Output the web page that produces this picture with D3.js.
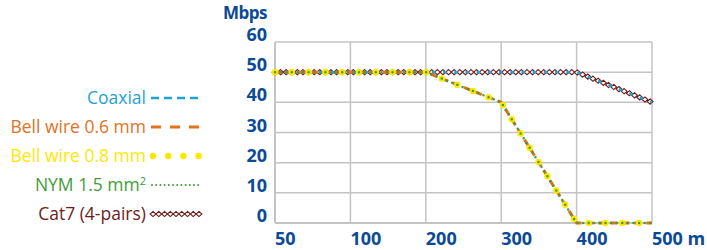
<!DOCTYPE html>
<html>
<head>
<meta charset="utf-8">
<script src="https://cdn.jsdelivr.net/npm/d3@7"></script>
<style>
  body { margin: 0; background: #fff; }
  svg { display: block; }
</style>
</head>
<body>
<svg id="chart" width="707" height="250"></svg>
<script>
// Débit selon la distance, par type de câble

var distances = ["50", "100", "200", "300", "400", "500"];
var distance_labels = ["50", "100", "200", "300", "400", "500 m"];
var mbps_ticks = [0, 10, 20, 30, 40, 50, 60];

var coaxial = [50, 50, 50, 50, 50, 40];
var bell_06 = [50, 50, 50, 40, 0, 0];
var bell_08 = [50, 50, 50, 40, 0, 0];
var nym_15 = [50, 50, 50, 40, 0, 0];
var cat7 = [50, 50, 50, 50, 50, 40];

var series_names = ["Coaxial", "Bell wire 0.6 mm", "Bell wire 0.8 mm", "NYM 1.5 mm²", "Cat7 (4-pairs)"];

var svg = d3.select("#chart");
var blue = "#0b4a96";

var x = d3.scalePoint().domain(distances).range([275, 652]);
var y = d3.scaleLinear().domain([0, 60]).range([223, 42]);

// Grille
var grid = svg.append("g");
grid.selectAll(".hgrid")
    .data(mbps_ticks)
    .enter()
    .append("line")
    .attr("x1", x.range()[0])
    .attr("x2", x.range()[1])
    .attr("y1", d => y(d))
    .attr("y2", d => y(d))
    .attr("stroke", "#c4c4c4")
    .attr("stroke-width", d => d === 0 ? 2 : 1.5);
grid.selectAll(".vgrid")
    .data(distances)
    .enter()
    .append("line")
    .attr("x1", d => x(d))
    .attr("x2", d => x(d))
    .attr("y1", y(0))
    .attr("y2", y(60))
    .attr("stroke", "#c4c4c4")
    .attr("stroke-width", (d, i) => i === 0 ? 2 : 1.5);

// Axe Y
svg.append("g").selectAll("text")
    .data(mbps_ticks)
    .enter()
    .append("text")
    .attr("x", 267)
    .attr("y", d => y(d) - 1)
    .attr("text-anchor", "end")
    .attr("font-family", "Open Sans")
    .attr("font-weight", "bold")
    .attr("font-size", "18px")
    .attr("fill", blue)
    .text(d => d);

svg.append("text")
    .attr("x", 267)
    .attr("y", 19)
    .attr("text-anchor", "end")
    .attr("font-family", "Open Sans")
    .attr("font-weight", "bold")
    .attr("font-size", "17px")
    .attr("letter-spacing", "-0.5px")
    .attr("fill", blue)
    .text("Mbps");

// Axe X
svg.append("g").selectAll("text")
    .data(distances)
    .enter()
    .append("text")
    .attr("x", d => x(d))
    .attr("y", 245)
    .attr("text-anchor", "start")
    .attr("font-family", "Open Sans")
    .attr("font-weight", "bold")
    .attr("font-size", "18px")
    .attr("fill", blue)
    .text((d, i) => distance_labels[i]);

var line = d3.line().x((d, i) => x(distances[i])).y(d => y(d));

// Styles des séries
function style_coax(sel) {
    return sel.attr("fill", "none").attr("stroke", "#1ea3d3").attr("stroke-width", 2.5);
}
function style_bell06(sel) {
    return sel.attr("fill", "none").attr("stroke", "#e5711e").attr("stroke-width", 3);
}
function style_bell08(sel) {
    return sel.attr("fill", "none").attr("stroke", "#ffe800").attr("stroke-width", 6.5)
        .attr("stroke-linecap", "round");
}
function style_nym(sel) {
    return sel.attr("fill", "none").attr("stroke", "#3f9d37").attr("stroke-width", 2.5)
        .attr("stroke-linecap", "round");
}

// Chaîne de losanges le long d'un chemin
function diamonds(g, path_node, step) {
    var total = path_node.getTotalLength();
    for (var l = 0; l <= total + 0.1; l += step) {
        var p = path_node.getPointAtLength(Math.min(l, total));
        g.append("path")
            .attr("d", "M0,-2.6L2.9,0L0,2.6L-2.9,0Z")
            .attr("transform", `translate(${p.x},${p.y})`)
            .attr("fill", "#fff")
            .attr("stroke", "#6e1b1b")
            .attr("stroke-width", 1.1);
    }
}

var series = svg.append("g");

// Cat7
var cat7_path = series.append("path")
    .attr("d", line(cat7))
    .attr("fill", "none")
    .attr("stroke", "#6e1b1b")
    .attr("stroke-width", 1);
diamonds(series.append("g"), cat7_path.node(), 5.6);

// Coaxial
series.append("path").attr("d", line(coaxial)).call(style_coax)
    .attr("stroke-dasharray", "3.5,7.7");

// Bell wire 0.6
series.append("path").attr("d", line(bell_06)).call(style_bell06)
    .attr("stroke-dasharray", "7,5");

// Bell wire 0.8
series.append("path").attr("d", line(bell_08)).call(style_bell08)
    .attr("stroke-dasharray", "0,16.8");

// NYM
series.append("path").attr("d", line(nym_15)).call(style_nym)
    .attr("stroke-dasharray", "0,5.6");

// Légende
var legend_colors = ["#1ea3d3", "#e5711e", "#ffe800", "#3f9d37", "#6e1b1b"];
var legend = svg.append("g");
series_names.forEach((name, i) => {
    var ly = 98 + i * 29;
    var t = legend.append("text")
        .attr("x", 146)
        .attr("y", ly + 6)
        .attr("text-anchor", "end")
        .attr("font-family", "Open Sans")
        .attr("font-size", "17.5px")
        .attr("fill", legend_colors[i]);
    if (name === "NYM 1.5 mm²") {
        t.text("NYM 1.5 mm");
        t.append("tspan").attr("font-size", "11px").attr("dy", -6).text("2");
    } else {
        t.text(name);
    }
    var pts = "M151," + ly + "H200";
    if (i === 0) legend.append("path").attr("d", pts).call(style_coax).attr("stroke-dasharray", "8,5");
    if (i === 1) legend.append("path").attr("d", pts).call(style_bell06).attr("stroke-dasharray", "10,9");
    if (i === 2) legend.append("path").attr("d", "M153," + ly + "H199").call(style_bell08).attr("stroke-dasharray", "0,15.2");
    if (i === 3) legend.append("path").attr("d", "M152," + ly + "H199").call(style_nym).attr("stroke-width", 2).attr("stroke-dasharray", "0,4.2");
    if (i === 4) {
        var lp = legend.append("path").attr("d", "M153," + ly + "H199").attr("stroke", "none");
        diamonds(legend.append("g"), lp.node(), 5.75);
    }
});
</script>
</body>
</html>
